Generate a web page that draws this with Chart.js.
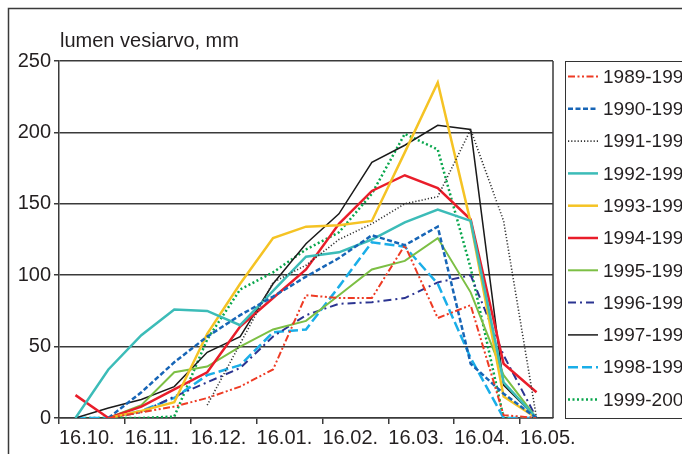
<!DOCTYPE html>
<html lang="fi">
<head>
  <meta charset="UTF-8" />
  <title>Lumen vesiarvo</title>
  <script src="https://cdn.jsdelivr.net/npm/chart.js"></script>
  <style>
    body {
      margin: 0;
      background: #fff;
    }
    #wrap {
      width: 682px;
      height: 454px;
      overflow: hidden;
    }
  </style>
</head>
<body>
  <div id="wrap"><canvas id="chart" width="682" height="454"></canvas></div>

  <script>
    // half-month measuring points (axis unit = half month, 0 = 16.10.)
    const xPoints = [0.5, 1.5, 2.5, 3.5, 4.5, 5.5, 6.5, 7.5, 8.5, 9.5, 10.5, 11.5, 12.5, 13.5, 14.5];
    const xTickValues = [0, 2, 4, 6, 8, 10, 12, 14];
    const xTickLabels = ['16.10.', '16.11.', '16.12.', '16.01.', '16.02.', '16.03.', '16.04.', '16.05.'];

    const seriesNames = ['1989-1990', '1990-1991', '1991-1992', '1992-1993', '1993-1994', '1994-1995',
                         '1995-1996', '1996-1997', '1997-1998', '1998-1999', '1999-2000'];

    const v1989 = [null, 0, 4, 8, 14, 22, 34, 86, 84, 84, 121, 70, 79, 2, 0];
    const v1990 = [null, 0, 18, 39, 57, 72, 85, 99, 112, 128, 121, 134, 38, 17, 0];
    const v1991 = [null, null, null, null, 9, 52, 95, 107, 125, 136, 150, 155, 202, 138, 0];
    const v1992 = [0, 34, 58, 76, 75, 65, 89, 113, 116, 125, 137, 146, 138, 25, 0];
    const v1993 = [null, 0, 5, 11, 59, 94, 126, 134, 135, 138, 186, 235, 137, 15, 0];
    const v1994 = [16, 0, 8, 20, 32, 64, 84, 104, 136, 159, 170, 161, 139, 38, 18];
    const v1995 = [null, 0, 9, 32, 36, 50, 62, 68, 86, 104, 110, 126, 88, 30, 0];
    const v1996 = [null, 0, 4, 15, 25, 35, 57, 72, 80, 81, 84, 95, 100, 44, 0];
    const v1997 = [0, 7, 13, 22, 46, 57, 94, 122, 143, 179, 191, 205, 202, 23, 0];
    const v1998 = [0, 0, 5, 14, 30, 37, 60, 62, 92, 123, 120, 94, 42, 0, 0];
    const v1999 = [0, 0, 0, 1, 55, 90, 102, 118, 130, 157, 199, 188, 105, 0, 0];

    const seriesValues = [v1989, v1990, v1991, v1992, v1993, v1994, v1995, v1996, v1997, v1998, v1999];

    const lineStyles = [
      { color: '#ee3b24', dash: [7, 2.5, 2, 2.5, 2, 2.5], width: 2 },
      { color: '#1765b6', dash: [5, 2.5], width: 2.5 },
      { color: '#333333', dash: [1.2, 2], width: 1.6 },
      { color: '#3cbcb8', dash: [], width: 2.5 },
      { color: '#f5c324', dash: [], width: 2.5 },
      { color: '#e91d2a', dash: [], width: 2.5 },
      { color: '#7cbf44', dash: [], width: 2 },
      { color: '#2b3491', dash: [8, 4, 2, 4], width: 2 },
      { color: '#1a1a1a', dash: [], width: 1.5 },
      { color: '#1aaee8', dash: [10, 4], width: 2.5 },
      { color: '#08a64c', dash: [2, 2.5], width: 2.5 }
    ];

    const FONT = "'Liberation Sans', Arial, sans-serif";
    const INK = '#231f20';
    const RULE = '#3a3a3a';

    const datasets = seriesNames.map((name, i) => ({
      label: name,
      data: xPoints.map((x, j) => ({ x: x, y: seriesValues[i][j] })),
      borderColor: lineStyles[i].color,
      borderDash: lineStyles[i].dash,
      borderWidth: lineStyles[i].width,
      pointRadius: 0,
      tension: 0,
      fill: false
    }));

    // frame, y-title, right border of plot and the legend box
    const decor = {
      id: 'decor',
      afterDraw(chart) {
        const ctx = chart.ctx;
        const a = chart.chartArea;
        ctx.save();
        ctx.strokeStyle = RULE;
        ctx.lineWidth = 1.5;
        ctx.strokeRect(8.5, 8.5, 720, 500);

        ctx.beginPath();
        ctx.moveTo(a.right, a.top);
        ctx.lineTo(a.right, a.bottom);
        ctx.stroke();

        ctx.fillStyle = INK;
        ctx.font = '20px ' + FONT;
        ctx.textAlign = 'left';
        ctx.textBaseline = 'alphabetic';
        ctx.fillText('lumen vesiarvo, mm', 60, 47);

        ctx.lineWidth = 1;
        ctx.strokeStyle = '#333';
        ctx.strokeRect(565.5, 61.5, 200, 357);

        ctx.font = '19px ' + FONT;
        ctx.textBaseline = 'middle';
        chart.data.datasets.forEach((ds, i) => {
          const y = 76.5 + i * 32.3;
          ctx.beginPath();
          ctx.strokeStyle = ds.borderColor;
          ctx.lineWidth = ds.borderWidth;
          ctx.setLineDash(ds.borderDash);
          ctx.moveTo(568, y);
          ctx.lineTo(598, y);
          ctx.stroke();
          ctx.setLineDash([]);
          ctx.fillStyle = INK;
          ctx.fillText(ds.label, 603, y + 1);
        });
        ctx.restore();
      }
    };

    new Chart(document.getElementById('chart').getContext('2d'), {
      type: 'line',
      data: { datasets: datasets },
      options: {
        responsive: false,
        animation: false,
        devicePixelRatio: 1,
        layout: { padding: { top: 61, right: 129, bottom: 0, left: 0 } },
        plugins: {
          legend: { display: false },
          tooltip: { enabled: false }
        },
        scales: {
          x: {
            type: 'linear',
            min: 0,
            max: 15,
            afterBuildTicks: s => { s.ticks = xTickValues.map(v => ({ value: v })); },
            afterFit: s => { s.height = 36; },
            ticks: {
              align: 'start',
              padding: 2,
              color: INK,
              font: { family: FONT, size: 20 },
              callback: (v, i) => xTickLabels[i]
            },
            grid: { drawOnChartArea: false, drawTicks: true, tickLength: 6, color: RULE, lineWidth: 1.5 },
            border: { display: true, color: RULE, width: 1.5 }
          },
          y: {
            min: 0,
            max: 250,
            afterFit: s => { s.width = 59; },
            ticks: {
              stepSize: 50,
              padding: 3,
              color: INK,
              font: { family: FONT, size: 20 }
            },
            grid: { drawTicks: true, tickLength: 5, color: RULE, lineWidth: 1.5 },
            border: { display: true, color: RULE, width: 1.5 }
          }
        }
      },
      plugins: [decor]
    });
  </script>
</body>
</html>
